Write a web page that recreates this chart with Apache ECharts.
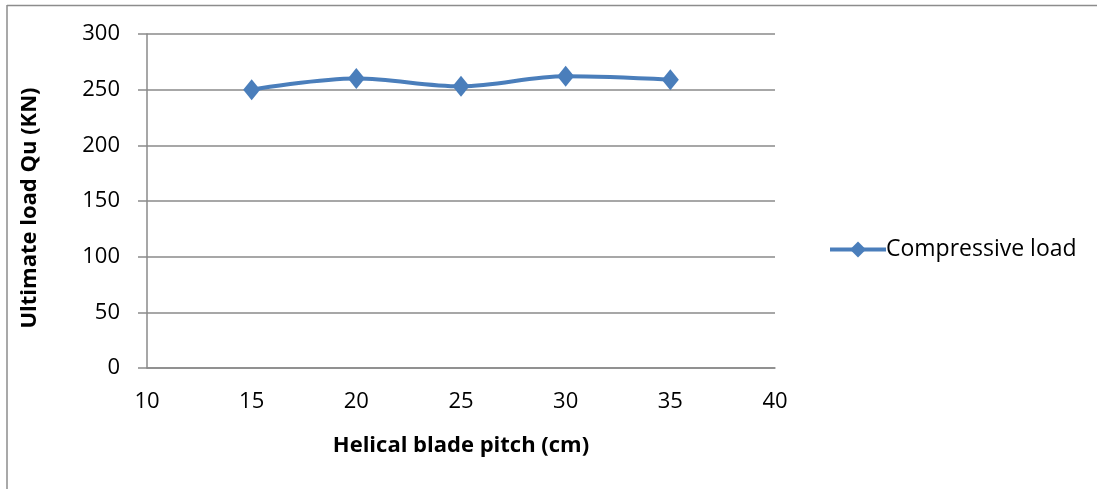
<!DOCTYPE html>
<html>
<head>
<meta charset="utf-8">
<script src="https://cdn.jsdelivr.net/npm/echarts@6/dist/echarts.min.js"></script>
<style>
  html, body { margin: 0; padding: 0; background: #fff; }
  #chart { width: 1097px; height: 489px; }
</style>
</head>
<body>
<div id="chart"></div>
<script>
// Helical blade pitch (cm) against ultimate compressive load (kN)
const pitchCm = [15, 20, 25, 30, 35];
const compressiveLoad = [250, 260, 253, 262, 259];
const seriesName = 'Compressive load';
const xTitle = 'Helical blade pitch (cm)';
const yTitle = 'Ultimate load Qu (KN)';

const FONT = '"Open Sans", sans-serif';
const FS = 22;
const GRID_COLOR = '#8a8a8a';
const LINE_COLOR = '#4a7ebb';

const chart = echarts.init(document.getElementById('chart'), null, { renderer: 'canvas' });

chart.setOption({
  backgroundColor: '#ffffff',
  animation: false,
  grid: { left: 147, right: 322, top: 34, bottom: 121, containLabel: false },
  legend: {
    data: [seriesName],
    left: 823,
    top: 233,
    itemWidth: 56,
    itemHeight: 20,
    itemGap: 0,
    lineStyle: { width: 4, color: LINE_COLOR },
    textStyle: { fontFamily: FONT, fontSize: 23, color: '#000', padding: [0, 0, 0, -5] }
  },
  xAxis: {
    type: 'value',
    min: 10,
    max: 40,
    interval: 5,
    name: xTitle,
    nameLocation: 'middle',
    nameGap: 67,
    nameTextStyle: { fontFamily: FONT, fontSize: FS, fontWeight: 'bold', color: '#000' },
    axisLine: { show: true, lineStyle: { color: GRID_COLOR, width: 1.5 } },
    axisTick: { show: false },
    axisLabel: { margin: 23, fontFamily: FONT, fontSize: FS, color: '#000' },
    splitLine: { show: false }
  },
  yAxis: {
    type: 'value',
    min: 0,
    max: 300,
    interval: 50,
    name: yTitle,
    nameLocation: 'middle',
    nameGap: 106,
    nameTextStyle: { fontFamily: FONT, fontSize: FS, fontWeight: 'bold', color: '#000', padding: [0, 0, 0, -14] },
    axisLine: { show: true, lineStyle: { color: GRID_COLOR, width: 1.5 } },
    axisTick: { show: true, length: 9, lineStyle: { color: GRID_COLOR, width: 1.5 } },
    axisLabel: { margin: 27, fontFamily: FONT, fontSize: FS, color: '#000' },
    splitLine: { show: true, lineStyle: { color: GRID_COLOR, width: 1.5 } }
  },
  series: [{
    name: seriesName,
    type: 'line',
    data: pitchCm.map((p, i) => [p, compressiveLoad[i]]),
    smooth: 0.35,
    symbol: 'diamond',
    symbolSize: [17, 21],
    lineStyle: { color: LINE_COLOR, width: 4 },
    itemStyle: { color: LINE_COLOR }
  }],
  graphic: [
    { type: 'line', shape: { x1: 7, y1: 5.5, x2: 1097, y2: 5.5 }, style: { stroke: '#8c8c8c', lineWidth: 1.5 } },
    { type: 'line', shape: { x1: 7, y1: 5, x2: 7, y2: 489 }, style: { stroke: '#8c8c8c', lineWidth: 1.5 } }
  ]
});
</script>
</body>
</html>
